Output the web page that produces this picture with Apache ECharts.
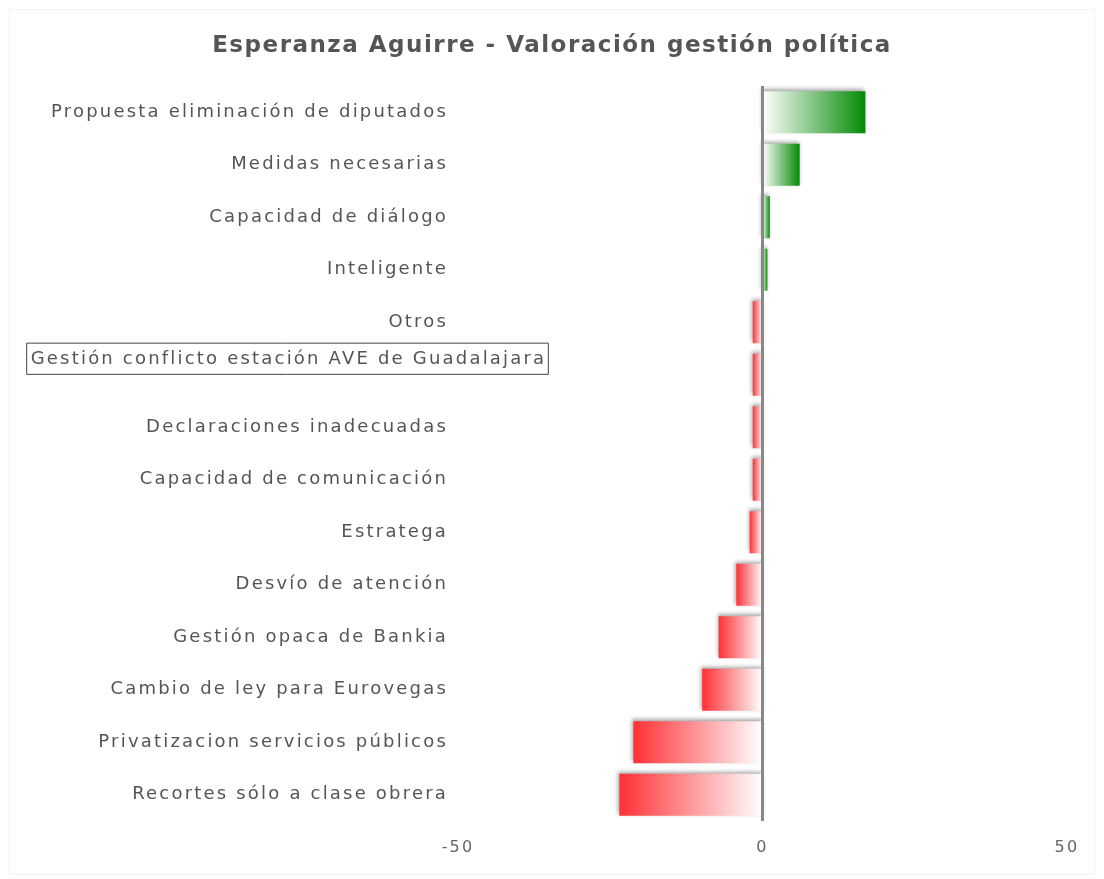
<!DOCTYPE html>
<html>
<head>
<meta charset="utf-8">
<script src="https://cdn.jsdelivr.net/npm/echarts@6/dist/echarts.min.js"></script>
<style>
  html,body{margin:0;padding:0;background:#fff;}
  #chart{width:1104px;height:879px;position:relative;}
  .marco{position:absolute;left:9px;top:9px;right:9px;bottom:4px;border:1px solid #f3f3f3;pointer-events:none;}
</style>
</head>
<body>
<div id="chart"></div>
<script>
  // categorias de arriba a abajo
  var categorias = [
    'Propuesta eliminación de diputados',
    'Medidas necesarias',
    'Capacidad de diálogo',
    'Inteligente',
    'Otros',
    'Gestión conflicto estación AVE de Guadalajara',
    'Declaraciones inadecuadas',
    'Capacidad de comunicación',
    'Estratega',
    'Desvío de atención',
    'Gestión opaca de Bankia',
    'Cambio de ley para Eurovegas',
    'Privatizacion servicios públicos',
    'Recortes sólo a clase obrera'
  ];
  var valores = [16.9, 6.1, 1.2, 0.8, -1.6, -1.6, -1.6, -1.6, -2.1, -4.3, -7.2, -9.9, -21.2, -23.5];
  var ejeX = [-50, 0, 50];
  var resaltada = 'Gestión conflicto estación AVE de Guadalajara';

  // el texto del original va algo espaciado, el canvas lo permite con letterSpacing
  var proto = CanvasRenderingContext2D.prototype;
  ['fillText', 'strokeText', 'measureText'].forEach(function (k) {
    var f = proto[k];
    proto[k] = function () {
      this.letterSpacing = /bold/.test(this.font) ? '1.5px' : '2.2px';
      return f.apply(this, arguments);
    };
  });

  var verde = new echarts.graphic.LinearGradient(0, 0, 1, 0, [
    {offset: 0, color: '#ffffff'},
    {offset: 1, color: '#058a05'}
  ]);
  var rojo = new echarts.graphic.LinearGradient(0, 0, 1, 0, [
    {offset: 0, color: '#ff3035'},
    {offset: 1, color: '#ffffff'}
  ]);

  var datos = valores.map(function (v) {
    return {value: v, itemStyle: {color: v >= 0 ? verde : rojo}};
  });

  var ejeY = categorias.map(function (c) {
    if (c === resaltada) {
      return {value: c, textStyle: {align: 'center', padding: [0, 321, 32, 0]}};
    }
    return c;
  });

  var myChart = echarts.init(document.getElementById('chart'));
  var option = {
    animation: false,
    title: {
      text: 'Esperanza Aguirre - Valoración gestión política',
      left: 'center',
      top: 29,
      textStyle: {
        color: '#555',
        fontFamily: 'DejaVu Sans',
        fontSize: 23,
        fontWeight: 'bold'
      }
    },
    grid: {left: 458, right: 37, top: 86, bottom: 58},
    xAxis: {
      type: 'value',
      min: -50,
      max: 50,
      interval: 50,
      splitLine: {show: false},
      axisLine: {show: false},
      axisTick: {show: false},
      axisLabel: {
        color: '#666',
        fontFamily: 'DejaVu Sans',
        fontSize: 16,
        margin: 18,
        formatter: function (v) { return ejeX.indexOf(v) >= 0 ? String(v) : ''; }
      }
    },
    yAxis: {
      type: 'category',
      inverse: true,
      data: ejeY,
      axisLine: {show: false},
      axisTick: {show: false},
      axisLabel: {
        color: '#555',
        fontFamily: 'DejaVu Sans',
        fontSize: 18,
        margin: 10,
        formatter: function (v) {
          return v === resaltada ? '{caja|' + v + '}' : v;
        },
        rich: {
          caja: {
            color: '#555',
            fontFamily: 'DejaVu Sans',
            fontSize: 18,
            borderColor: '#444',
            borderWidth: 1,
            padding: [6, 2, 5, 4]
          }
        }
      }
    },
    series: [{
      type: 'bar',
      data: datos,
      barWidth: 42,
      itemStyle: {
        shadowColor: 'rgba(0,0,0,0.35)',
        shadowBlur: 4,
        shadowOffsetX: -1,
        shadowOffsetY: -2
      },
      markLine: {
        silent: true,
        symbol: 'none',
        label: {show: false},
        lineStyle: {color: '#888', width: 3, type: 'solid'},
        data: [{xAxis: 0}]
      }
    }]
  };
  myChart.setOption(option);
  var marco = document.createElement('div');
  marco.className = 'marco';
  document.getElementById('chart').appendChild(marco);
</script>
</body>
</html>
